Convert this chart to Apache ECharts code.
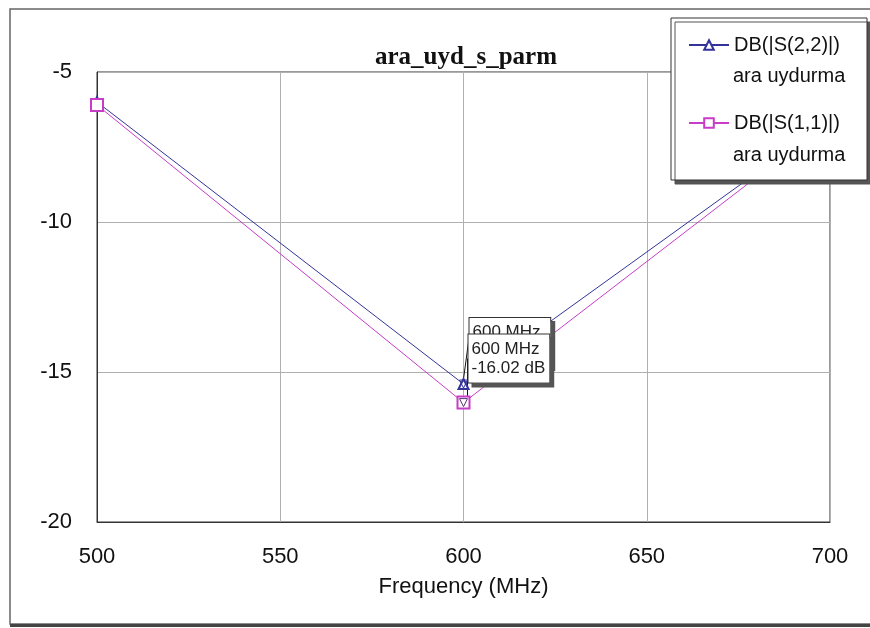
<!DOCTYPE html>
<html>
<head>
<meta charset="utf-8">
<script src="https://cdn.jsdelivr.net/npm/echarts@6/dist/echarts.min.js"></script>
<style>html,body{margin:0;padding:0;background:#fff;}#c{width:870px;height:628px;}</style>
</head>
<body>
<div id="c"></div>
<script>
const titleText = 'ara_uyd_s_parm';
const xName = 'Frequency (MHz)';
const freqs = [500, 600, 700];
const s22 = [-6.0, -15.4, -6.6];
const s11 = [-6.1, -16.02, -6.62];
const seriesNames = ['DB(|S(2,2)|)', 'DB(|S(1,1)|)'];
const subName = 'ara uydurma';
const markerIdx = 1;
const s22Label = ['600 MHz', '-15.40 dB'];
const s11Label = ['600 MHz', '-16.02 dB'];

const FONT = 'Liberation Sans, Arial, sans-serif';
const BLUE = '#33339a';
const PINK = '#c83cc8';

function buildData(vals, labelLines) {
  return freqs.map((f, i) => {
    if (i !== markerIdx) return [f, vals[i]];
    return {
      value: [f, vals[i]],
      label: {
        show: true,
        formatter: labelLines.join('\n'),
        fontFamily: FONT, fontSize: 17, color: '#222', lineHeight: 19,
        backgroundColor: '#fff', borderColor: '#333', borderWidth: 1,
        padding: [5, 4, 5, 3],
        shadowColor: '#555', shadowOffsetX: 4, shadowOffsetY: 4, shadowBlur: 0
      },
      labelLine: { show: true, lineStyle: { color: '#111', width: 1 } }
    };
  });
}

const chart = echarts.init(document.getElementById('c'), null, { renderer: 'canvas' });
chart.setOption({
  backgroundColor: '#fff',
  animation: false,
  title: {
    text: titleText, left: 370, top: 40,
    textStyle: { fontFamily: 'Liberation Serif, Times New Roman, serif', fontWeight: 'bold', fontSize: 25, color: '#111' }
  },
  grid: { left: 97, right: 40, top: 72, bottom: 106, show: true, borderColor: '#333', borderWidth: 1, backgroundColor: '#fff' },
  xAxis: {
    type: 'value', min: 500, max: 700, interval: 50,
    name: xName, nameLocation: 'middle', nameGap: 54,
    nameTextStyle: { fontFamily: FONT, fontSize: 22, color: '#111' },
    axisLine: { show: true, lineStyle: { color: '#333' } },
    axisTick: { show: false },
    axisLabel: { margin: 24, fontFamily: FONT, fontSize: 22, color: '#111' },
    splitLine: { show: true, lineStyle: { color: '#b0b0b0', width: 1 } }
  },
  yAxis: {
    type: 'value', min: -20, max: -5, interval: 5,
    axisLine: { show: true, lineStyle: { color: '#333' } },
    axisTick: { show: false },
    axisLabel: { margin: 25, fontFamily: FONT, fontSize: 22, color: '#111' },
    splitLine: { show: true, lineStyle: { color: '#b0b0b0', width: 1 } }
  },
  legend: {
    orient: 'vertical', left: 683, top: 29, itemGap: 56,
    itemWidth: 40, itemHeight: 12, z: 20,
    textStyle: { fontFamily: FONT, fontSize: 20, color: '#111', lineHeight: 22 },
    data: seriesNames
  },
  graphic: [
    { type: 'rect', z: 1, silent: true, shape: { x: 10, y: 9, width: 880, height: 615 },
      style: { fill: 'none', stroke: '#666', lineWidth: 1.5 } },
    { type: 'line', z: 1, silent: true, shape: { x1: 10, y1: 625.5, x2: 870, y2: 625.5 },
      style: { stroke: '#444', lineWidth: 3 } },
    { type: 'rect', z: 15, silent: true, shape: { x: 671, y: 18, width: 196, height: 162 },
      style: { fill: '#fff', stroke: '#333', lineWidth: 1, shadowColor: '#555', shadowOffsetX: 4, shadowOffsetY: 4, shadowBlur: 0 } },
    { type: 'text', z: 21, silent: true, x: 733, y: 76,
      style: { text: subName, font: '20px ' + FONT, fill: '#111', verticalAlign: 'middle' } },
    { type: 'text', z: 21, silent: true, x: 733, y: 155,
      style: { text: subName, font: '20px ' + FONT, fill: '#111', verticalAlign: 'middle' } }
  ],
  series: [
    {
      name: seriesNames[0], type: 'line', data: buildData(s22, s22Label),
      symbol: 'emptyTriangle', symbolSize: 10, showAllSymbol: true,
      lineStyle: { color: BLUE, width: 1 }, itemStyle: { color: BLUE, borderWidth: 1 },
      labelLayout: (p) => p.dataIndex === markerIdx ? { x: p.rect.x + 12, y: p.rect.y - 60, align: 'left', verticalAlign: 'top' } : {},
      markPoint: {
        symbol: 'triangle', symbolRotate: 180, symbolSize: 8, silent: true,
        itemStyle: { color: 'none', borderColor: BLUE, borderWidth: 1 },
        label: { show: false },
        data: [{ coord: [freqs[markerIdx], s22[markerIdx]] }]
      }
    },
    {
      name: seriesNames[1], type: 'line', data: buildData(s11, s11Label),
      symbol: 'emptyRect', symbolSize: 12, showAllSymbol: true,
      lineStyle: { color: PINK, width: 1 }, itemStyle: { color: PINK, borderWidth: 1 },
      labelLayout: (p) => p.dataIndex === markerIdx ? { x: p.rect.x + 12, y: p.rect.y - 61, align: 'left', verticalAlign: 'top' } : {},
      markPoint: {
        symbol: 'triangle', symbolRotate: 180, symbolSize: 8, silent: true,
        itemStyle: { color: 'none', borderColor: '#553377', borderWidth: 1 },
        label: { show: false },
        data: [{ coord: [freqs[markerIdx], s11[markerIdx]] }]
      }
    }
  ]
});
</script>
</body>
</html>
